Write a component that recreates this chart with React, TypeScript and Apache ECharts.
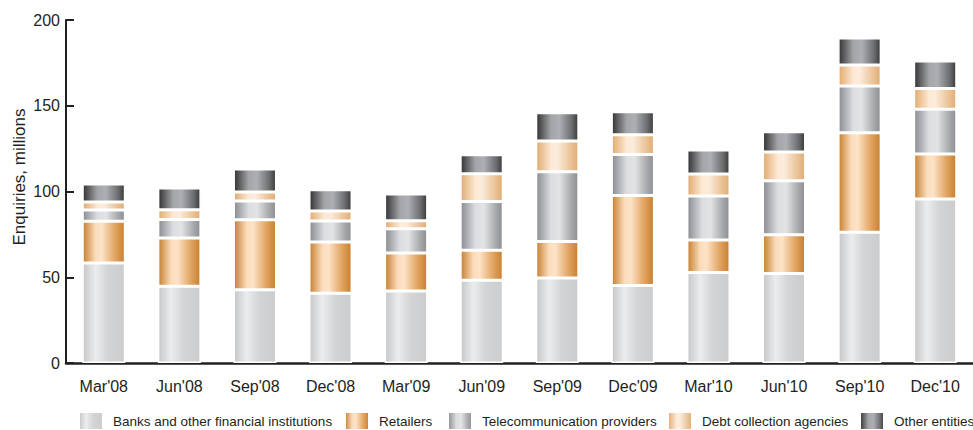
import React, { useEffect, useRef } from "react";
import * as echarts from "echarts";

const categories = ["Mar'08", "Jun'08", "Sep'08", "Dec'08", "Mar'09", "Jun'09", "Sep'09", "Dec'09", "Mar'10", "Jun'10", "Sep'10", "Dec'10"];
const banks = [58.3, 44.7, 42.7, 40.6, 42.0, 48.2, 49.6, 45.2, 52.8, 52.2, 76.2, 95.6];
const retailers = [24.3, 28.2, 40.9, 30.0, 22.1, 17.5, 21.3, 52.5, 18.9, 22.6, 58.1, 26.3];
const telecom = [6.6, 10.8, 10.9, 12.2, 14.2, 28.5, 40.6, 23.9, 25.7, 31.5, 27.2, 26.0];
const debt = [4.7, 5.7, 5.2, 5.8, 4.7, 16.2, 17.9, 11.5, 12.8, 16.7, 12.3, 12.2];
const other = [10.5, 12.6, 13.4, 12.4, 15.5, 11.1, 16.5, 13.4, 14.0, 11.9, 15.7, 16.0];
const yTicks = [0, 50, 100, 150, 200];
const seriesNames = ["Banks and other financial institutions", "Retailers", "Telecommunication providers", "Debt collection agencies", "Other entities"];

function grad(stops: [number, string][]) {
  return new echarts.graphic.LinearGradient(0, 0, 1, 0, stops.map(([offset, color]) => ({ offset, color })));
}

const fills = [
  grad([[0, "#c6c7c9"], [0.3, "#ebeced"], [0.6, "#d3d4d6"], [1, "#cbcccd"]]),
  grad([[0, "#c7802f"], [0.3, "#fbdcbb"], [0.45, "#fde3c8"], [0.75, "#e3a868"], [1, "#c97f2d"]]),
  grad([[0, "#8a8c90"], [0.35, "#dcdde0"], [0.55, "#e2e3e5"], [0.85, "#a5a7aa"], [1, "#8c8e91"]]),
  grad([[0, "#e0ab70"], [0.35, "#fde9d4"], [0.5, "#fcecdc"], [1, "#e1ac72"]]),
  grad([[0, "#333335"], [0.35, "#a4a5a8"], [0.55, "#aeafb2"], [0.85, "#6b6c6f"], [1, "#3a3a3c"]]),
];

const dataSets = [banks, retailers, telecom, debt, other];
const legendLefts = [78, 344, 447, 667, 859];

export default function App() {
  const ref = useRef<HTMLDivElement>(null);
  useEffect(() => {
    if (!ref.current) return;
    const chart = echarts.init(ref.current, null, { renderer: "svg" });
    const textColor = "#231f20";
    chart.setOption({
      animation: false,
      backgroundColor: "#ffffff",
      textStyle: { fontFamily: "'Liberation Sans', Arial, sans-serif", color: textColor },
      grid: { left: 66, width: 917, top: 20, bottom: 67, containLabel: false },
      legend: seriesNames.map((n, i) => ({
        data: [n],
        left: legendLefts[i],
        top: 411,
        padding: 0,
        itemWidth: 24,
        itemHeight: 18,
        icon: "rect",
        selectedMode: false,
        textStyle: {
          fontFamily: "'Liberation Sans', Arial, sans-serif",
          fontSize: 13.5,
          color: textColor,
          padding: [0, 0, 0, 5],
        },
      })),
      xAxis: {
        type: "category",
        data: categories,
        axisLine: { show: true, lineStyle: { color: textColor, width: 2.5 } },
        axisTick: { show: false },
        axisLabel: { color: textColor, fontSize: 16, margin: 15 },
        splitLine: { show: false },
      },
      yAxis: {
        type: "value",
        min: yTicks[0],
        max: yTicks[yTicks.length - 1],
        interval: 50,
        axisLine: { show: true, lineStyle: { color: textColor, width: 2 } },
        axisTick: { show: true, inside: true, length: 8, lineStyle: { color: textColor, width: 2 } },
        axisLabel: { color: textColor, fontSize: 16, margin: 6 },
        splitLine: { show: false },
      },
      graphic: [
        {
          type: "text",
          x: 19,
          y: 177,
          rotation: Math.PI / 2,
          style: {
            text: "Enquiries, millions",
            fontSize: 17,
            fontFamily: "'Liberation Sans', Arial, sans-serif",
            fill: textColor,
            textAlign: "center",
            textVerticalAlign: "middle",
          },
        },
      ],
      series: seriesNames.map((name, i) => ({
        name,
        type: "bar",
        stack: "total",
        barWidth: 43,
        data: dataSets[i],
        itemStyle: { color: fills[i], borderColor: "#ffffff", borderWidth: 1.5 },
        emphasis: { disabled: true },
      })),
    });
    return () => chart.dispose();
  }, []);
  return <div ref={ref} style={{ position: "fixed", left: 0, top: 0, width: 973, height: 430 }} />;
}
